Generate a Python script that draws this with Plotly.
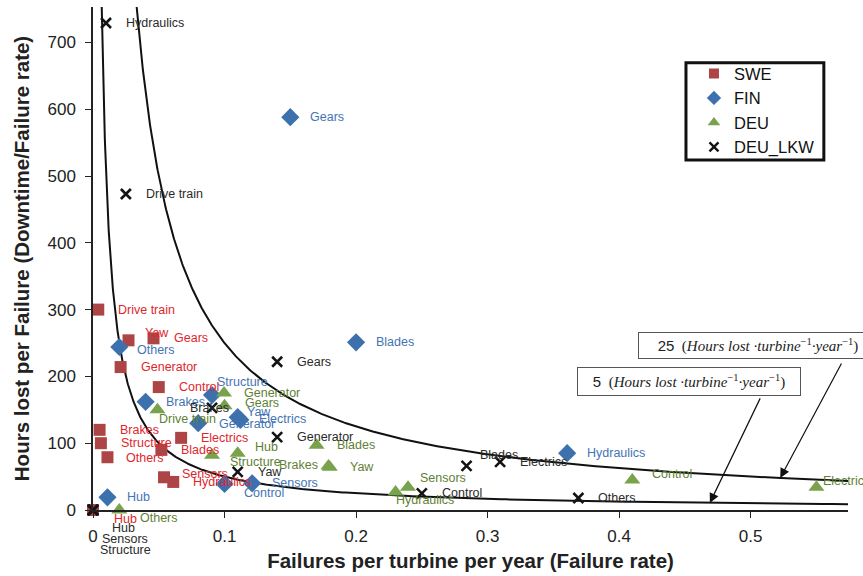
import numpy as np
import plotly.graph_objects as go

# ---------------- data ----------------
SWE_COMPONENTS = ["Drive train", "Yaw", "Gears", "Generator", "Control", "Brakes", "Structure",
                  "Others", "Blades", "Electrics", "Sensors", "Hydraulics", "Hub"]
SWE_FAILURE_RATE = [0.004, 0.027, 0.046, 0.021, 0.050, 0.005, 0.006,
                    0.011, 0.052, 0.067, 0.054, 0.061, 0.0]
SWE_HOURS_PER_FAILURE = [300, 254, 257, 214, 184, 120, 100,
                         79, 90, 108, 49, 42, 0]

FIN_COMPONENTS = ["Gears", "Blades", "Hydraulics", "Others", "Brakes", "Structure", "Yaw",
                  "Generator", "Electrics", "Sensors", "Control", "Hub"]
FIN_FAILURE_RATE = [0.150, 0.200, 0.3605, 0.020, 0.040, 0.0905, 0.110,
                    0.080, 0.112, 0.121, 0.100, 0.011]
FIN_HOURS_PER_FAILURE = [588, 251, 85, 244, 162, 172, 139,
                         130, 135, 40, 39, 19]

DEU_COMPONENTS = ["Drive train", "Generator", "Gears", "Hub", "Structure", "Blades", "Yaw",
                  "Brakes", "Sensors", "Hydraulics", "Control", "Electrics", "Others"]
DEU_FAILURE_RATE = [0.049, 0.0996, 0.100, 0.110, 0.0905, 0.170, 0.180,
                    0.179, 0.2395, 0.230, 0.410, 0.550, 0.020]
DEU_HOURS_PER_FAILURE = [150, 175, 156, 85, 82, 97, 64,
                         66, 34, 27, 45, 34, 0]

LKW_COMPONENTS = ["Hydraulics", "Drive train", "Gears", "Generator", "Brakes", "Yaw", "Control",
                  "Blades", "Electrics", "Others", "Hub", "Sensors", "Structure"]
LKW_FAILURE_RATE = [0.0099, 0.025, 0.140, 0.140, 0.0905, 0.110, 0.250,
                    0.284, 0.3095, 0.369, 0.0, 0.0, 0.0]
LKW_HOURS_PER_FAILURE = [729, 473, 222, 109, 153, 57, 25,
                         66, 72, 18, 0, 0, 0]

HOURS_LOST_LEVELS = [5, 25]          # iso-lines: hours lost per turbine per year
ARROW_TIP_RATE = {5: 0.469, 25: 0.5225}

X_TICKS = [0, 0.1, 0.2, 0.3, 0.4, 0.5]
X_TICK_TEXT = ["0", "0.1", "0.2", "0.3", "0.4", "0.5"]
Y_TICKS = [0, 100, 200, 300, 400, 500, 600, 700]

# ---------------- styles ----------------
FONT = "Liberation Sans, Arial, sans-serif"
X_RANGE = [0, 0.574]
Y_RANGE = [0, 753]

SERIES = [
    dict(name="SWE", comps=SWE_COMPONENTS, x=SWE_FAILURE_RATE, y=SWE_HOURS_PER_FAILURE,
         symbol="square", size=12, lsize=10, mcolor="#AD4547", tcolor="#E0262C"),
    dict(name="FIN", comps=FIN_COMPONENTS, x=FIN_FAILURE_RATE, y=FIN_HOURS_PER_FAILURE,
         symbol="diamond", size=14, lsize=11, mcolor="#3D71AD", tcolor="#4474B4"),
    dict(name="DEU", comps=DEU_COMPONENTS, x=DEU_FAILURE_RATE, y=DEU_HOURS_PER_FAILURE,
         symbol="triangle-up", size=14, lsize=11, mcolor="#79A24C", tcolor="#5F7F36"),
    dict(name="DEU_LKW", comps=LKW_COMPONENTS, x=LKW_FAILURE_RATE, y=LKW_HOURS_PER_FAILURE,
         symbol="x-thin", size=10, lsize=9, mcolor="#141414", tcolor="#2A2A2A"),
]

DEFAULT_OFFSET = (18, 0, "left")
LABEL_OFFSETS = {
    ("SWE", "Yaw"): (14, 7, "left"),
    ("SWE", "Sensors"): (16, 3, "left"),
    ("SWE", "Hub"): (19, -9, "left"),
    ("SWE", "Others"): (17, -1, "left"),
    ("FIN", "Others"): (16, -3, "left"),
    ("FIN", "Structure"): (3, 13, "left"),
    ("FIN", "Yaw"): (7, 5, "left"),
    ("FIN", "Control"): (17, -9, "left"),
    ("FIN", "Electrics"): (17, 1, "left"),
    ("FIN", "Generator"): (19, -1, "left"),
    ("DEU", "Drive train"): (0, -9, "left"),
    ("DEU", "Gears"): (18, 3, "left"),
    ("DEU", "Hub"): (15, 6, "left"),
    ("DEU", "Structure"): (16, -7, "left"),
    ("DEU", "Brakes"): (-8, 1, "right"),
    ("DEU", "Sensors"): (10, 9, "left"),
    ("DEU", "Hydraulics"): (-2, -8, "left"),
    ("DEU", "Control"): (18, 6, "left"),
    ("DEU", "Electrics"): (5, 6, "left"),
    ("DEU", "Others"): (19, -8, "left"),
    ("DEU_LKW", "Brakes"): (-3, 0, "center"),
    ("DEU_LKW", "Blades"): (11, 11, "left"),
    ("DEU_LKW", "Hub"): (30, -18, "center"),
    ("DEU_LKW", "Sensors"): (32, -29, "center"),
    ("DEU_LKW", "Structure"): (32, -40, "center"),
}

fig = go.Figure()

# iso-lines y = level / x
for level in HOURS_LOST_LEVELS:
    xs = np.geomspace(level / Y_RANGE[1], X_RANGE[1], 400)
    fig.add_trace(go.Scatter(x=xs, y=level / xs, mode="lines",
                             line=dict(color="#111111", width=2),
                             showlegend=False, hoverinfo="skip"))

annotations = []
for s in SERIES:
    is_x = s["symbol"] == "x-thin"
    line = dict(color=s["mcolor"], width=2.6) if is_x else dict(width=0)
    fig.add_trace(go.Scatter(
        x=s["x"], y=s["y"], mode="markers", name=s["name"], cliponaxis=False,
        showlegend=False,
        marker=dict(symbol=s["symbol"], size=s["size"], color=s["mcolor"], line=line),
    ))
    # legend entry with smaller symbol (no data drawn)
    lline = dict(color=s["mcolor"], width=2.4) if is_x else dict(width=0)
    fig.add_trace(go.Scatter(
        x=[None], y=[None], mode="markers", name=s["name"],
        marker=dict(symbol=s["symbol"], size=s["lsize"], color=s["mcolor"], line=lline),
    ))
    for comp, xv, yv in zip(s["comps"], s["x"], s["y"]):
        dx, dy, anchor = LABEL_OFFSETS.get((s["name"], comp), DEFAULT_OFFSET)
        annotations.append(dict(
            x=xv, y=yv, xref="x", yref="y", text=comp, showarrow=False,
            xanchor=anchor, yanchor="middle", xshift=dx, yshift=dy,
            font=dict(family=FONT, size=12.5, color=s["tcolor"]),
        ))

# spacer legend row so the last entry's underscore is not clipped
fig.add_trace(go.Scatter(x=[None], y=[None], mode="markers", name=" ",
                         marker=dict(size=1, color="rgba(0,0,0,0)",
                                     line=dict(width=0)),
                         hoverinfo="skip"))

# formula boxes
def unit_text(level):
    return (f'<span style="font-family:Liberation Sans, Arial;font-style:normal">{level}</span>'
            '  (<i>Hours lost ·turbine</i><sup>−1</sup><i>·year</i><sup>−1</sup>)')

BOXES = {25: dict(x=0.8808, y=0.327, w=234, h=21), 5: dict(x=0.7894, y=0.2555, w=218, h=23)}
ARROW_TAIL = {25: (62, -116), 5: (51, -106)}
for level in HOURS_LOST_LEVELS:
    b = BOXES[level]
    annotations.append(dict(
        x=b["x"], y=b["y"], xref="paper", yref="paper", text=unit_text(level),
        showarrow=False, xanchor="center", yanchor="middle", width=b["w"], height=b["h"],
        bordercolor="#555555", borderwidth=1, borderpad=2, bgcolor="white",
        font=dict(family="Liberation Serif, DejaVu Serif, serif", size=15, color="#222222"),
    ))
    tip_x = ARROW_TIP_RATE[level]
    ax, ay = ARROW_TAIL[level]
    annotations.append(dict(
        x=tip_x, y=level / tip_x, xref="x", yref="y", text="", showarrow=True,
        ax=ax, ay=ay, arrowhead=2, arrowsize=1.6, arrowwidth=1.2, arrowcolor="#111111",
        standoff=0,
    ))

# legend frame
shapes = [dict(type="rect", xref="paper", yref="paper", x0=0.7854, x1=0.968, y0=0.696, y1=0.889,
               line=dict(color="#111111", width=3), fillcolor="rgba(0,0,0,0)", layer="below")]

fig.update_layout(
    width=863, height=576,
    margin=dict(l=93, r=15, t=7, b=66),
    plot_bgcolor="white", paper_bgcolor="white",
    font=dict(family=FONT, color="#222222"),
    annotations=annotations, shapes=shapes,
    showlegend=True,
    legend=dict(x=0.796, y=0.902, xanchor="left", yanchor="top", bgcolor="rgba(0,0,0,0)",
                borderwidth=0, font=dict(family=FONT, size=16.5, color="#111111"),
                tracegroupgap=0),
    xaxis=dict(range=X_RANGE, showgrid=False, zeroline=False, showline=True,
               linecolor="#222222", linewidth=1.5, ticks="outside", ticklen=6,
               tickcolor="#222222", tickvals=X_TICKS, ticktext=X_TICK_TEXT,
               tickfont=dict(size=17, color="#222222"), ticklabelstandoff=4,
               title=dict(text="Failures per turbine per year (Failure rate)",
                          font=dict(size=20.5, weight="bold", color="#222222"), standoff=8),
               automargin=False),
    yaxis=dict(range=Y_RANGE, showgrid=False, zeroline=False, showline=True,
               linecolor="#222222", linewidth=1.5, ticks="outside", ticklen=6,
               tickcolor="#222222", tickvals=Y_TICKS,
               tickfont=dict(size=17, color="#222222"), ticklabelstandoff=6,
               title=dict(text="Hours lost per Failure (Downtime/Failure rate)",
                          font=dict(size=20.5, weight="bold", color="#222222"), standoff=12),
               automargin=False),
)

fig.write_html("out.html", config={"displayModeBar": False},
               post_script="document.body.style.margin='0px';")
